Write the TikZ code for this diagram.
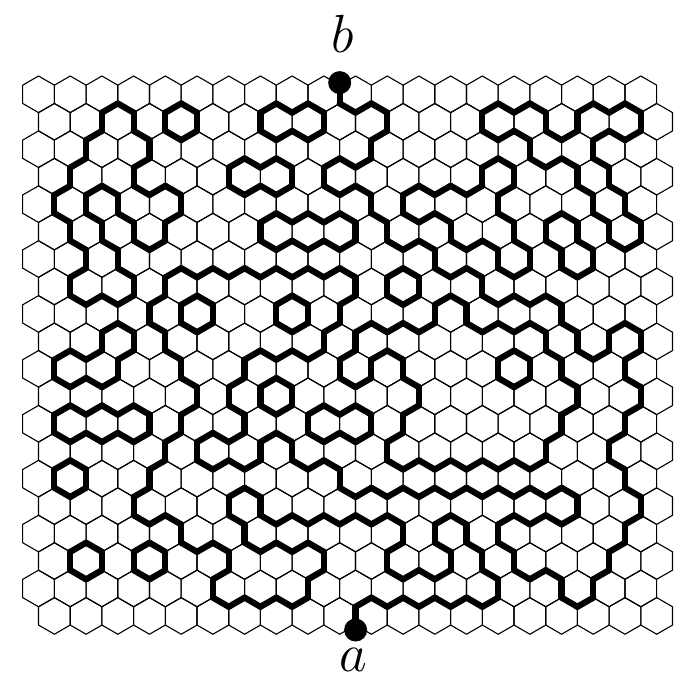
\documentclass[tikz,border=0pt]{standalone}
\usepackage{tikz}

% side of the curve for every hexagon, one row per line (top row first)
\def\hexrows{%
  {0,0,0,0,0,0,0,0,0,0,1,1,1,1,1,1,1,1,1,1},%
  {0,0,1,0,1,0,0,1,1,0,0,1,1,1,0,0,1,0,0,1},%
  {0,0,1,1,0,0,0,0,0,0,0,1,1,1,1,1,0,0,1,1},%
  {0,1,1,0,0,0,1,1,0,1,1,1,1,1,0,1,1,0,1,1},%
  {0,1,0,1,1,0,0,0,0,0,0,1,0,0,0,1,1,1,0,1},%
  {0,1,0,1,0,0,0,1,1,1,0,1,1,0,0,1,0,1,0,1},%
  {0,0,1,0,0,0,0,0,0,0,0,0,0,1,1,0,1,0,1,1},%
  {0,1,1,0,1,1,1,1,1,1,0,1,0,0,1,1,1,1,1,1},%
  {0,0,0,0,1,0,1,1,0,1,0,0,0,1,0,0,0,1,1,1},%
  {0,0,1,0,1,1,1,1,1,0,1,1,1,1,1,1,0,1,0,1},%
  {0,1,1,0,0,1,1,0,0,0,1,0,1,1,1,0,1,0,0,1},%
  {0,0,0,0,0,1,0,1,0,0,0,0,1,1,1,1,1,0,0,1},%
  {0,1,1,1,0,1,1,0,0,1,1,0,1,1,1,1,1,0,0,1},%
  {0,0,0,0,1,0,0,1,0,0,0,1,1,1,1,1,0,0,1,1},%
  {0,1,0,0,1,1,1,1,1,1,0,0,0,0,0,0,0,0,0,1},%
  {0,0,0,1,1,1,0,1,1,1,1,1,1,1,1,1,1,0,0,1},%
  {0,0,0,0,0,1,1,0,0,0,0,0,1,0,1,0,0,0,0,1},%
  {0,1,0,1,0,0,1,1,1,0,0,1,1,0,1,0,0,0,1,1},%
  {0,0,0,0,0,0,1,1,1,0,0,0,0,0,0,1,1,0,1,1},%
  {0,0,0,0,0,0,0,0,0,0,1,1,1,1,1,1,1,1,1,1}%
}

\tikzset{
  cell/.style={draw=black, line width=0.55pt},
  wall/.style={line width=3.1pt, line cap=round},
  endpt/.style={circle, fill=black, inner sep=0pt, minimum size=11.5pt},
  letter/.style={inner sep=0pt, font=\Huge, scale=1.08},
}

\begin{document}
\begin{tikzpicture}[x=9.15pt, y=9.15pt]
    \useasboundingbox (-1.24,5.153) rectangle (35.86,-32.22);

    % States
    \foreach \row [count=\hr from 0] in \hexrows {
        \foreach \v [count=\hc from 0] in \row {
            \expandafter\xdef\csname hs-\hr-\hc\endcsname{\v}
        }
    }

    % Grid
    \foreach \hr in {0,...,19}
        \foreach \hc in {0,...,19} {
            \pgfmathsetmacro\cx{sqrt(3)*(\hc+0.5+0.5*mod(\hr,2))}
            \pgfmathsetmacro\cy{-1.5*\hr}
            \draw[cell] (\cx,\cy) +(30:1) -- +(90:1) -- +(150:1) -- +(210:1)
                -- +(270:1) -- +(330:1) -- cycle;
        }

    % Loops: thick edge wherever two neighbours lie on different sides
    \foreach \hr in {0,...,19}
        \foreach \hc in {0,...,19} {
            \pgfmathsetmacro\cx{sqrt(3)*(\hc+0.5+0.5*mod(\hr,2))}
            \pgfmathsetmacro\cy{-1.5*\hr}
            \edef\hxme{\csname hs-\hr-\hc\endcsname}
            \ifnum\hc<19
                \pgfmathtruncatemacro\hxnc{\hc+1}
                \edef\hxnb{\csname hs-\hr-\hxnc\endcsname}
                \ifx\hxme\hxnb\else
                    \draw[wall] (\cx,\cy) ++(30:1) -- ++(0,-1);
                \fi
            \fi
            \ifnum\hr<19
                \pgfmathtruncatemacro\hxnr{\hr+1}
                \pgfmathtruncatemacro\hxlc{\hc-1+mod(\hr,2)}
                \pgfmathtruncatemacro\hxrc{\hc+mod(\hr,2)}
                \ifnum\hxlc>-1
                    \edef\hxnb{\csname hs-\hxnr-\hxlc\endcsname}
                    \ifx\hxme\hxnb\else
                        \draw[wall] (\cx,\cy) ++(270:1) -- ++(150:1);
                    \fi
                \fi
                \ifnum\hxrc<20
                    \edef\hxnb{\csname hs-\hxnr-\hxrc\endcsname}
                    \ifx\hxme\hxnb\else
                        \draw[wall] (\cx,\cy) ++(270:1) -- ++(30:1);
                    \fi
                \fi
            \fi
        }

    % End points
    \node[endpt] (b) at (17.32,0.64) {};
    \node[endpt] (a) at (18.19,-29.27) {};

    % Labels
    \node[letter] (lb) at (17.5,3.3) {$b$};
    \node[letter] (la) at (18.05,-30.91) {$a$};
\end{tikzpicture}
\end{document}
